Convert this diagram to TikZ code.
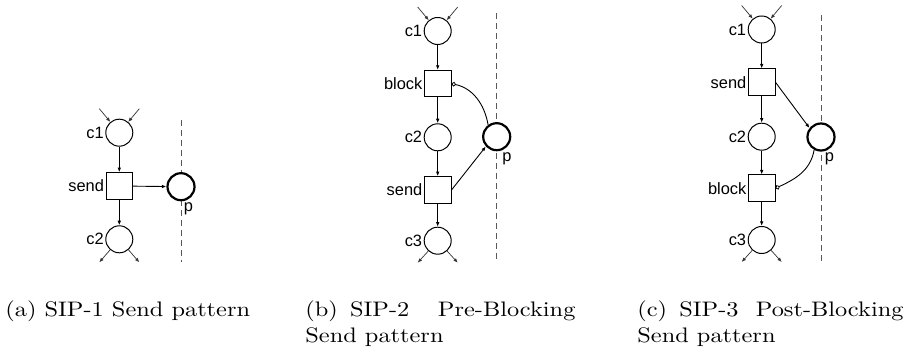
\documentclass[tikz,border=0pt]{standalone}
\usepackage{fontspec}
\usepackage{graphicx}
\newfontfamily\lblfont{Liberation Sans}
\usetikzlibrary{arrows.meta}
\begin{document}
\begin{tikzpicture}[x=0.5pt,y=-0.5pt,
 placenode/.style={circle,draw,fill=white,minimum size=13.5pt,inner sep=0pt,line width=0.5pt},
 transnode/.style={rectangle,draw,fill=white,minimum size=13.3pt,inner sep=0pt,line width=0.5pt},
 chan/.style={placenode,line width=1.1pt},
 lbl/.style={font=\lblfont\fontsize{8.2}{9}\selectfont,inner sep=0.6pt},
 flow/.style={line width=0.45pt,-{Latex[length=2.3pt,width=1.8pt]}},
 inhib/.style={line width=0.45pt,-{Circle[open,length=2.3pt,line width=0.4pt]}},
 extarc/.style={line width=0.35pt,draw=black!80,-{Latex[length=2.2pt,width=1.8pt]}},
 boundary/.style={dash pattern=on 3pt off 2pt,line width=0.45pt,draw=black!65},
 captext/.style={font=\fontsize{10.5}{12.6}\selectfont,inner sep=0pt,anchor=base west}
]
\useasboundingbox (0,0) rectangle (907,353);

% ---------- (a) ----------
\coordinate (aTop) at (181,120);
\coordinate (aBot) at (181,262);
\draw[boundary] (aTop) -- (aBot);
\node[placenode,label={[lbl]left:c1}] (ac1) at (119.3,132.7) {};
\node[transnode,label={[lbl]left:send}] (asend) at (119.3,186) {};
\node[placenode,label={[lbl]left:c2}] (ac2) at (119.3,239.3) {};
\node[chan] (ap) at (181,186.7) {};
\node[lbl,anchor=base west,inner sep=0pt] (apl) at (183.5,211.5) {p};
\coordinate (ain1) at (99.3,108.7);
\coordinate (ain2) at (139.3,108.7);
\coordinate (aout1) at (99.3,262.3);
\coordinate (aout2) at (139.3,262.3);
\draw[extarc] (ain1) -- (ac1);
\draw[extarc] (ain2) -- (ac1);
\draw[extarc] (ac2) -- (aout1);
\draw[extarc] (ac2) -- (aout2);
\draw[flow] (ac1) -- (asend);
\draw[flow] (asend) -- (ac2);
\draw[flow] (asend) -- (ap);

% ---------- (b) ----------
\coordinate (bTop) at (496.5,13);
\coordinate (bBot) at (496.5,262);
\draw[boundary] (bTop) -- (bBot);
\node[placenode,label={[lbl]left:c1}] (bc1) at (437.7,31) {};
\node[transnode,label={[lbl]left:block}] (bblock) at (437.7,83.7) {};
\node[placenode,label={[lbl]left:c2}] (bc2) at (437.7,137.3) {};
\node[transnode,label={[lbl]left:send}] (bsend) at (437.7,190) {};
\node[placenode,label={[lbl]left:c3}] (bc3) at (437.7,240.7) {};
\node[chan] (bp) at (496.7,136.7) {};
\node[lbl,anchor=base west,inner sep=0pt] (bpl) at (502,161.5) {p};
\coordinate (bin1) at (417.7,7);
\coordinate (bin2) at (457.7,7);
\coordinate (bout1) at (417.7,262.7);
\coordinate (bout2) at (457.7,262.7);
\draw[extarc] (bin1) -- (bc1);
\draw[extarc] (bin2) -- (bc1);
\draw[extarc] (bc3) -- (bout1);
\draw[extarc] (bc3) -- (bout2);
\draw[flow] (bc1) -- (bblock);
\draw[flow] (bblock) -- (bc2);
\draw[flow] (bc2) -- (bsend);
\draw[flow] (bsend) -- (bc3);
\draw[flow] (bsend.east) -- (bp.222);
\draw[inhib] (bp.126) to[out=100,in=-12] (bblock.east);

% ---------- (c) ----------
\coordinate (cTop) at (821,15);
\coordinate (cBot) at (821,262);
\draw[boundary] (cTop) -- (cBot);
\node[placenode,label={[lbl]left:c1}] (cc1) at (761.7,29.5) {};
\node[transnode,label={[lbl]left:send}] (csend) at (761.7,82.3) {};
\node[placenode,label={[lbl]left:c2}] (cc2) at (761.7,136.7) {};
\node[transnode,label={[lbl]left:block}] (cblock) at (761.7,188.3) {};
\node[placenode,label={[lbl]left:c3}] (cc3) at (761.7,240) {};
\node[chan] (cp) at (821,137) {};
\node[lbl,anchor=base west,inner sep=0pt] (cpl) at (824.5,161.5) {p};
\coordinate (cin1) at (741.7,5.5);
\coordinate (cin2) at (781.7,5.5);
\coordinate (cout1) at (741.7,262);
\coordinate (cout2) at (781.7,262);
\draw[extarc] (cin1) -- (cc1);
\draw[extarc] (cin2) -- (cc1);
\draw[extarc] (cc3) -- (cout1);
\draw[extarc] (cc3) -- (cout2);
\draw[flow] (cc1) -- (csend);
\draw[flow] (csend) -- (cc2);
\draw[flow] (cc2) -- (cblock);
\draw[flow] (cblock) -- (cc3);
\draw[flow] (csend.east) -- (cp.142);
\draw[inhib] (cp.242) to[out=-100,in=25] (cblock.east);

% ---------- captions ----------
\node[captext] (capa) at (5,317) {\scalebox{1.16}[1]{(a) SIP-1 Send pattern}};
\node[captext] (capb1) at (305,317) {\scalebox{1.16}[1]{\makebox[116.4pt][l]{(b)\hspace{0.5em}SIP-2\hfill Pre-Blocking}}};
\node[captext] (capb2) at (305,342.5) {\scalebox{1.16}[1]{Send pattern}};
\node[captext] (capc1) at (637,317) {\scalebox{1.16}[1]{\makebox[114.7pt][l]{(c)\hspace{0.5em}SIP-3\hfill Post-Blocking}}};
\node[captext] (capc2) at (637,342.5) {\scalebox{1.16}[1]{Send pattern}};
\end{tikzpicture}
\end{document}
